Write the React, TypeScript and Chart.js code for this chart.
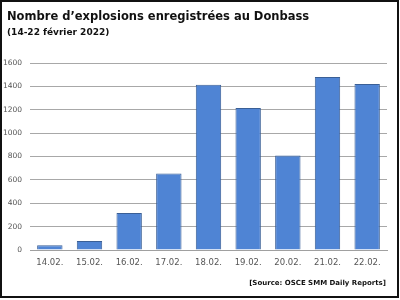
import React, { useEffect, useRef } from "react";
import { Chart, registerables } from "chart.js";

Chart.register(...registerables);

const categories = ["14.02.", "15.02.", "16.02.", "17.02.", "18.02.", "19.02.", "20.02.", "21.02.", "22.02."];
const explosions = [41, 76, 316, 654, 1413, 1215, 808, 1481, 1420];
const yTicks = [0, 200, 400, 600, 800, 1000, 1200, 1400, 1600];

const titleText = "Nombre d\u2019explosions enregistrées au Donbass";
const subtitleText = "(14-22 février 2022)";
const sourceText = "[Source: OSCE SMM Daily Reports]";

const FONT = "'DejaVu Sans', sans-serif";

export default function App() {
  const ref = useRef<HTMLCanvasElement | null>(null);

  useEffect(() => {
    document.body.style.margin = "0";
    if (!ref.current) return;
    const chart = new Chart(ref.current, {
      type: "bar",
      data: {
        labels: categories,
        datasets: [
          {
            data: explosions,
            backgroundColor: "#4f84d4",
            borderColor: "#3a5f96",
            borderWidth: 1,
            categoryPercentage: 1,
            barPercentage: 0.64,
          },
        ],
      },
      options: {
        animation: false,
        responsive: false,
        devicePixelRatio: 1,
        layout: { padding: { left: 0, top: 63, right: 13, bottom: 0 } },
        plugins: {
          legend: { display: false },
          tooltip: { enabled: false },
          title: { display: false },
        },
        scales: {
          x: {
            grid: { display: false, drawTicks: false },
            border: { display: true, color: "#a0a0a0", width: 1 },
            ticks: {
              color: "#555555",
              font: { family: FONT, size: 8.5 },
              padding: 8,
              maxRotation: 0,
            },
            afterFit: (scale: any) => {
              scale.height = 50;
            },
          },
          y: {
            min: 0,
            max: 1600,
            afterBuildTicks: (scale: any) => {
              scale.ticks = yTicks.map((v) => ({ value: v }));
            },
            grid: { color: "#a8a8a8", lineWidth: 1, drawTicks: false },
            border: { display: false },
            ticks: {
              color: "#555555",
              font: { family: FONT, size: 7.5 },
              padding: 8,
              callback: (v: any) => String(v),
            },
            afterFit: (scale: any) => {
              scale.width = 30;
            },
          },
        },
      },
    });
    return () => chart.destroy();
  }, []);

  const textBase: React.CSSProperties = {
    position: "absolute",
    fontFamily: FONT,
    fontWeight: "bold",
    color: "#111",
    whiteSpace: "nowrap",
  };

  return (
    <div style={{ position: "absolute", left: 0, top: 0, width: 400, height: 300, background: "#fff" }}>
      <canvas
        ref={ref}
        width={400}
        height={300}
        style={{ position: "absolute", left: 0, top: 0, width: 400, height: 300 }}
      />
      <div
        style={{
          position: "absolute",
          left: 0,
          top: 0,
          width: 399,
          height: 298,
          boxSizing: "border-box",
          border: "2px solid #111",
          pointerEvents: "none",
        }}
      />
      <div style={{ ...textBase, left: 7, top: 9, fontSize: 11.5, lineHeight: "14px" }}>{titleText}</div>
      <div style={{ ...textBase, left: 7, top: 26, fontSize: 9, lineHeight: "12px" }}>{subtitleText}</div>
      <div style={{ ...textBase, right: 14, top: 278, fontSize: 7, lineHeight: "10px" }}>{sourceText}</div>
    </div>
  );
}
